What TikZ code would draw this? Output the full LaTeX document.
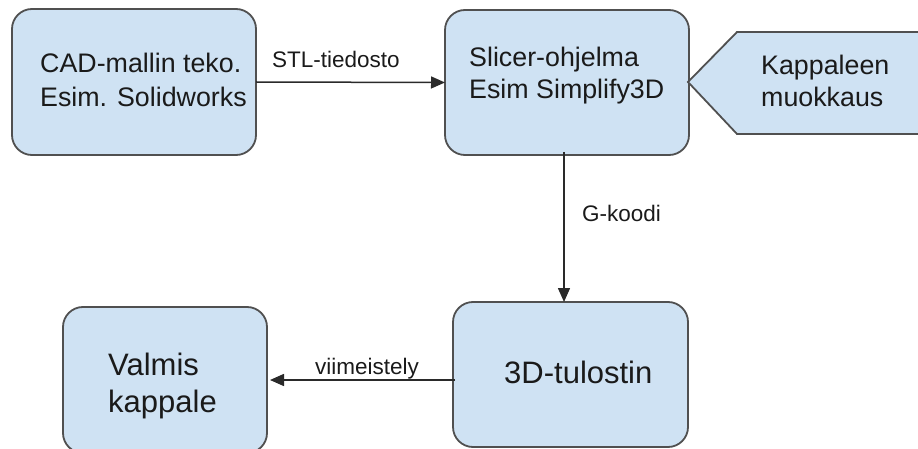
\documentclass[tikz,border=0pt]{standalone}
\usepackage{fontspec}
\setmainfont{Liberation Sans}
\usetikzlibrary{arrows.meta}
\definecolor{boxfill}{HTML}{CFE2F3}
\definecolor{boxline}{HTML}{505050}
\definecolor{txt}{HTML}{1A1A1A}
\definecolor{arrowc}{HTML}{2A2A2A}
\begin{document}
\begin{tikzpicture}[x=1pt,y=-1pt,
  box/.style={draw=boxline, fill=boxfill, line width=1.8pt, rounded corners=20pt,
    inner sep=0pt, outer sep=0pt, anchor=north west},
  maintext/.style={text=txt, anchor=base west, inner sep=0pt, align=left,
    font=\fontsize{26.8}{32}\selectfont},
  bigtext/.style={text=txt, anchor=base west, inner sep=0pt, align=left,
    font=\fontsize{31}{37}\selectfont},
  lbl/.style={text=txt, anchor=base west, inner sep=0pt, font=\fontsize{22.5}{27}\selectfont},
  arr/.style={draw=arrowc, line width=1.5pt, -{Triangle[length=14pt,width=12pt]}}]
\useasboundingbox (0,0) rectangle (918,449);
% boxes
\node[box, minimum width=244pt, minimum height=146pt] (cad) at (12,9) {};
\node[box, minimum width=244pt, minimum height=145pt] (slicer) at (445,10) {};
\node[box, minimum width=235pt, minimum height=145pt] (tul) at (453,302) {};
\node[box, minimum width=204pt, minimum height=146pt] (valmis) at (63,307) {};
% pentagon
\draw[draw=boxline, fill=boxfill, line width=1.8pt]
  (688,82) -- (737,32) -- (925,32) -- (925,134) -- (737,134) -- cycle;
% texts
\node[maintext] (t1a) at (40,73) {CAD-mallin teko.};
\node[maintext] (t1b) at (40,107) {Esim. Solidworks};
\node[maintext] (t2a) at (469,67) {Slicer-ohjelma};
\node[maintext] (t2b) at (469,99) {Esim Simplify3D};
\node[maintext] (t3a) at (761,75) {Kappaleen};
\node[maintext] (t3b) at (761,107) {muokkaus};
\node[bigtext] (t4) at (504,383) {3D-tulostin};
\node[bigtext] (t5a) at (108,375) {Valmis};
\node[bigtext] (t5b) at (108,412) {kappale};
% connectors
\draw[arr] (cad.east) -- (slicer.west);
\node[lbl] (l1) at (272,68) {STL-tiedosto};
\coordinate (gx) at (564,0);
\draw[arr] ([yshift=3pt]slicer.south -| gx) -- (tul.north -| gx);
\node[lbl] (l2) at (582,222) {G-koodi};
\coordinate (vy) at (0,380);
\draw[arr] ([xshift=2pt]tul.west |- vy) -- ([xshift=3pt]valmis.east |- vy);
\node[lbl] (l3) at (315,374) {viimeistely};
\end{tikzpicture}
\end{document}
